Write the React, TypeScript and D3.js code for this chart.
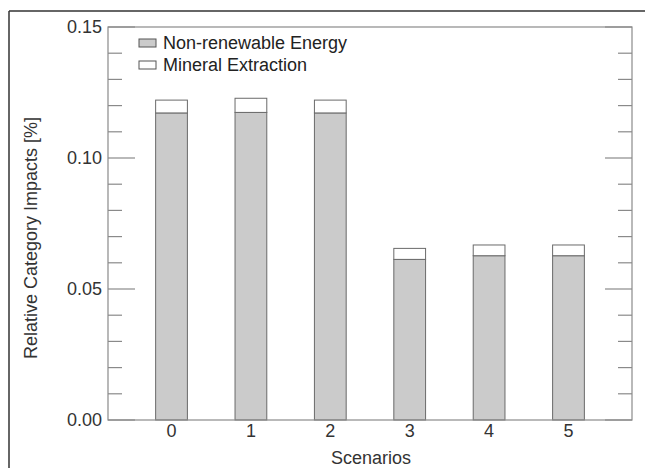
import React from "react";
import * as d3 from "d3";

const scenarios = [0, 1, 2, 3, 4, 5];
const nonRenewable = [0.1172, 0.1174, 0.1172, 0.0613, 0.0627, 0.0627];
const mineral = [0.0049, 0.0054, 0.0049, 0.0042, 0.0041, 0.0041];
const yMajorTicks = [0, 0.05, 0.1, 0.15];
const seriesNames = ["Non-renewable Energy", "Mineral Extraction"];
const seriesColors = ["#cbcbcb", "#ffffff"];

const W = 645, H = 468;
const M = { left: 108, right: 632, top: 27, bottom: 420 };
const font = "'Liberation Sans', Arial, Helvetica, sans-serif";

export default function App() {
  const x = d3.scaleLinear().domain([-0.8, 5.8]).range([M.left, M.right]);
  const y = d3.scaleLinear().domain([0, 0.15]).range([M.bottom, M.top]);
  const barW = x(0.4) - x(0);
  const minor = d3.range(0, 0.1501, 0.01).map(v => +v.toFixed(2));
  const axisColor = "#8a8a8a";
  const fmt = d3.format(".2f");

  return (
    <svg width={W} height={H} style={{ position: "absolute", left: 0, top: 0 }}>
      <rect x={0} y={0} width={W} height={H} fill="#fff" />
      {/* outer frame */}
      <line x1={9} x2={W} y1={11} y2={11} stroke="#333" strokeWidth={1.5} />
      <line x1={9} x2={9} y1={11} y2={H} stroke="#333" strokeWidth={1.5} />

      {/* bars */}
      {scenarios.map((s, i) => {
        const x0 = x(s) - barW / 2;
        const yTop1 = y(nonRenewable[i]);
        const yTop2 = y(nonRenewable[i] + mineral[i]);
        return (
          <g key={s}>
            <rect x={x0} y={yTop1} width={barW} height={y(0) - yTop1} fill={seriesColors[0]} stroke="#6a6a6a" strokeWidth={1} />
            <rect x={x0} y={yTop2} width={barW} height={yTop1 - yTop2} fill={seriesColors[1]} stroke="#6a6a6a" strokeWidth={1} />
          </g>
        );
      })}

      {/* axes box */}
      <rect x={M.left} y={M.top} width={M.right - M.left} height={M.bottom - M.top} fill="none" stroke={axisColor} strokeWidth={1.2} />
      {minor.map(v => {
        const major = yMajorTicks.some(m => Math.abs(m - v) < 1e-6);
        const len = major ? 27 : 14;
        return (
          <g key={v}>
            <line x1={M.left} x2={M.left + len} y1={y(v)} y2={y(v)} stroke={axisColor} strokeWidth={1.2} />
            <line x1={M.right - len} x2={M.right} y1={y(v)} y2={y(v)} stroke={axisColor} strokeWidth={1.2} />
          </g>
        );
      })}

      {/* y tick labels */}
      {yMajorTicks.map(v => (
        <text key={v} x={102} y={y(v)} dy="0.36em" textAnchor="end" fontFamily={font} fontSize={18} fill="#333">{fmt(v)}</text>
      ))}
      {/* x tick labels */}
      {scenarios.map(s => (
        <text key={s} x={x(s)} y={437} textAnchor="middle" fontFamily={font} fontSize={18} fill="#333">{s}</text>
      ))}
      <text x={(M.left + M.right) / 2 + 1} y={464} textAnchor="middle" fontFamily={font} fontSize={18} fill="#333">Scenarios</text>
      <text transform={`translate(37, 238) rotate(-90)`} textAnchor="middle" fontFamily={font} fontSize={18} fill="#333">Relative Category Impacts [%]</text>

      {/* legend */}
      {seriesNames.map((n, i) => (
        <g key={n} transform={`translate(139, ${39 + i * 22})`}>
          <rect x={0} y={0} width={17} height={8} fill={seriesColors[i]} stroke="#555" strokeWidth={1} />
          <text x={24} y={4} dy="0.36em" fontFamily={font} fontSize={18} fill="#222">{n}</text>
        </g>
      ))}
    </svg>
  );
}
